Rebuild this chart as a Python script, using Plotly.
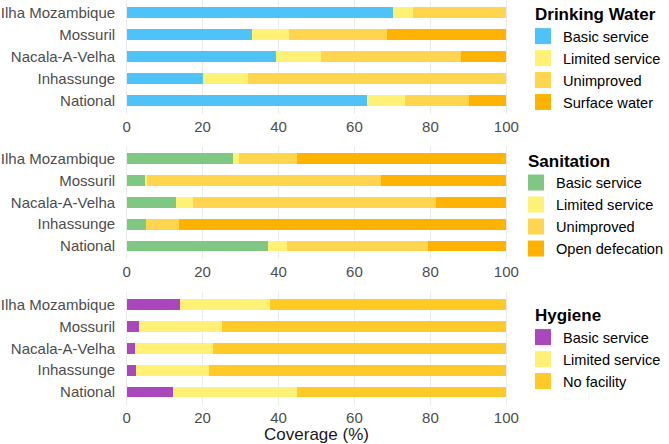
import plotly.graph_objects as go

districts = ["Ilha Mozambique", "Mossuril", "Nacala-A-Velha", "Inhassunge", "National"]

water_basic = [70.1, 32.9, 39.3, 20.0, 63.3]
water_limited = [5.2, 9.9, 11.9, 12.0, 10.0]
water_unimproved = [24.7, 25.7, 36.8, 68.0, 16.9]
water_surface = [0.0, 31.5, 12.0, 0.0, 9.8]

san_basic = [28.1, 5.1, 13.0, 5.1, 37.2]
san_limited = [1.6, 0.2, 4.4, 0.0, 4.9]
san_unimproved = [15.1, 61.6, 64.1, 8.7, 37.2]
san_open = [55.2, 33.1, 18.5, 86.2, 20.7]

hyg_basic = [14.0, 3.2, 2.2, 2.5, 12.3]
hyg_limited = [23.8, 21.8, 20.5, 19.2, 32.5]
hyg_none = [62.2, 75.0, 77.3, 78.3, 55.2]

x_ticks = [0, 20, 40, 60, 80, 100]

FONT = "Liberation Sans, Arial, sans-serif"

panels = [
    ("Drinking Water", "legend", "x", "y", [
        ("Basic service", water_basic, "#4FC3F7"),
        ("Limited service", water_limited, "#FFF176"),
        ("Unimproved", water_unimproved, "#FFD54F"),
        ("Surface water", water_surface, "#FFB300"),
    ]),
    ("Sanitation", "legend2", "x2", "y2", [
        ("Basic service", san_basic, "#81C784"),
        ("Limited service", san_limited, "#FFF176"),
        ("Unimproved", san_unimproved, "#FFD54F"),
        ("Open defecation", san_open, "#FFB300"),
    ]),
    ("Hygiene", "legend3", "x3", "y3", [
        ("Basic service", hyg_basic, "#AB47BC"),
        ("Limited service", hyg_limited, "#FFF176"),
        ("No facility", hyg_none, "#FFCA28"),
    ]),
]

fig = go.Figure()
for title, leg, xa, ya, series in panels:
    for name, vals, color in series:
        fig.add_trace(go.Bar(
            x=vals, y=districts, orientation="h", name=name,
            marker=dict(color=color, line=dict(width=0)),
            width=0.5, xaxis=xa, yaxis=ya, showlegend=False,
        ))
        fig.add_trace(go.Scatter(
            x=[None], y=[None], mode="markers", name=name,
            marker=dict(symbol="square", size=16, color=color),
            xaxis=xa, yaxis=ya, legend=leg, showlegend=True,
        ))

H = 444.0
W = 669.0
x_dom = [119.1 / W, 513.9 / W]
y_doms = [
    [1 - 113.9 / H, 1.0],
    [1 - 259.1 / H, 1 - 145.6 / H],
    [1 - 405.1 / H, 1 - 291.6 / H],
]
y_ranges = [[-0.6, 4.58], [-0.6, 4.6], [-0.6, 4.6]]

axis_common = dict(
    range=[-2, 102], tickvals=x_ticks, showgrid=True, gridcolor="#EBEBEB",
    gridwidth=1, zeroline=False, showline=False, ticks="",
    tickfont=dict(size=15, color="#4D4D4D", family=FONT), automargin=False,
    fixedrange=True, ticklabelstandoff=2,
)
yaxis_common = dict(
    categoryorder="array", categoryarray=list(reversed(districts)),
    showgrid=False, zeroline=False, showline=False,
    ticks="", tickfont=dict(size=15, color="#4D4D4D", family=FONT),
    automargin=False, ticklabelstandoff=3, fixedrange=True,
)

layout = dict(
    width=669, height=444, barmode="stack",
    margin=dict(l=0, r=0, t=0, b=0, autoexpand=False),
    paper_bgcolor="white", plot_bgcolor="white",
    font=dict(family=FONT, color="black"),
)
for i, (xa, ya) in enumerate([("xaxis", "yaxis"), ("xaxis2", "yaxis2"), ("xaxis3", "yaxis3")]):
    xa_d = dict(axis_common, domain=x_dom, anchor="y" if i == 0 else f"y{i+1}")
    if i == 2:
        xa_d["title"] = dict(text="Coverage (%)", font=dict(size=17, color="#1a1a1a", family=FONT), standoff=5)
    layout[xa] = xa_d
    layout[ya] = dict(yaxis_common, domain=y_doms[i], range=y_ranges[i],
                      anchor="x" if i == 0 else f"x{i+1}")

leg_common = dict(
    xanchor="left", yanchor="top", bgcolor="rgba(0,0,0,0)", traceorder="normal",
    font=dict(size=14.6, color="black", family=FONT), tracegroupgap=0,
    itemclick=False, itemdoubleclick=False, indentation=-10,
)
layout["legend"] = dict(leg_common, x=533 / W, y=1 + 2 / H,
                        title=dict(text="Drinking Water", font=dict(size=17, weight="bold", family=FONT)))
layout["legend2"] = dict(leg_common, x=526 / W, y=1 - 144.5 / H,
                         title=dict(text="Sanitation", font=dict(size=17, weight="bold", family=FONT)))
layout["legend3"] = dict(leg_common, x=533 / W, y=1 - 299 / H,
                         title=dict(text="Hygiene", font=dict(size=17, weight="bold", family=FONT)))

fig.update_layout(**layout)
fig.write_html("out.html", config={"displayModeBar": False},
               post_script="document.body.style.margin='0';")
